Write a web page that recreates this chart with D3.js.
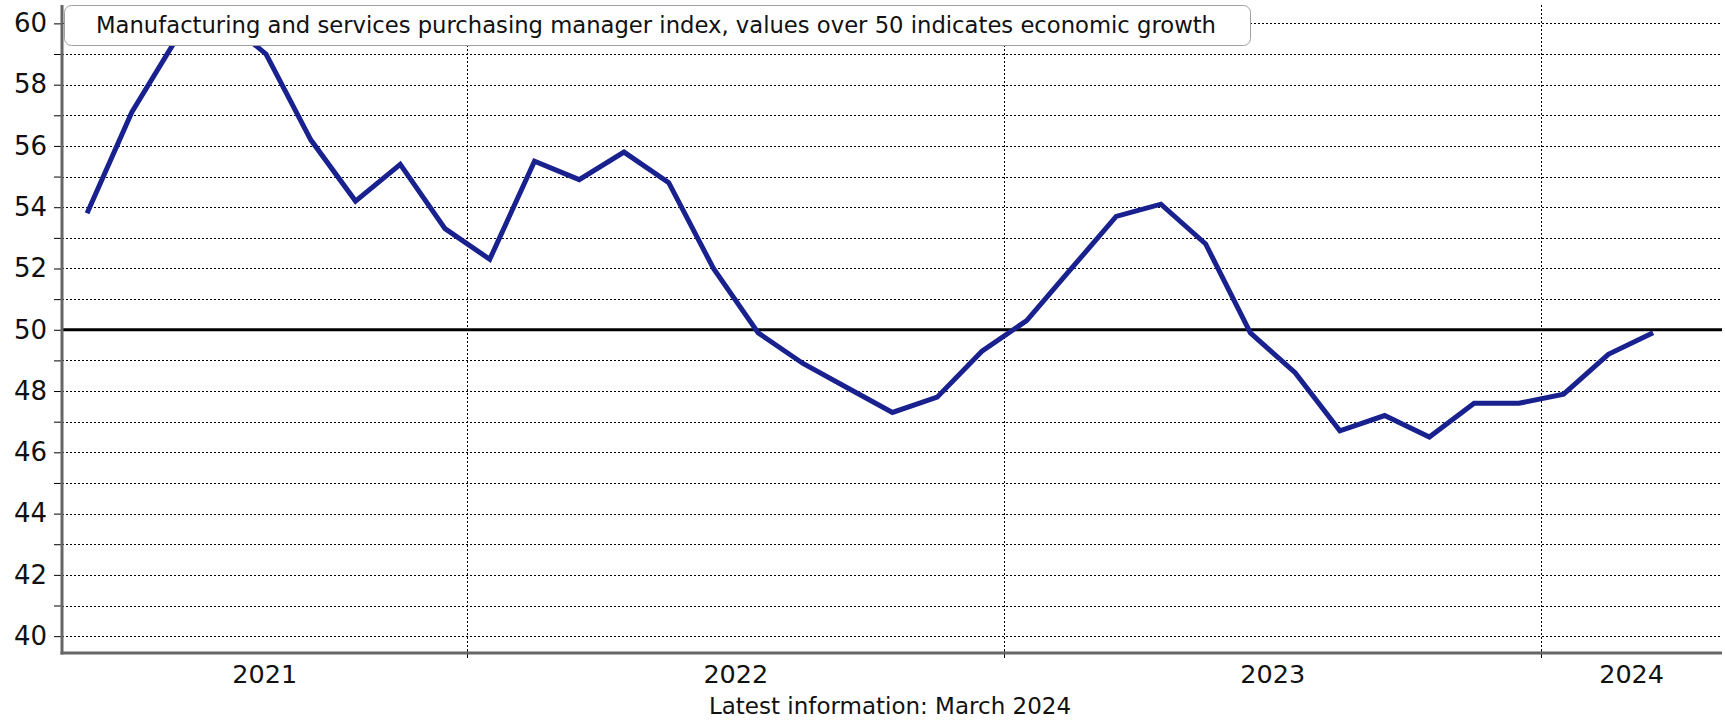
<!DOCTYPE html>
<html>
<head>
<meta charset="utf-8">
<script src="https://cdn.jsdelivr.net/npm/d3@7"></script>
<style>
  html, body { margin: 0; padding: 0; background: #fff; }
  svg { display: block; font-family: "DejaVu Sans", Verdana, sans-serif; }
</style>
</head>
<body>
<svg id="chart" width="1725" height="720"></svg>
<script>
// monthly composite PMI, April 2021 .. March 2024
var months = [
  "2021-04","2021-05","2021-06","2021-07","2021-08","2021-09","2021-10","2021-11","2021-12",
  "2022-01","2022-02","2022-03","2022-04","2022-05","2022-06","2022-07","2022-08","2022-09","2022-10","2022-11","2022-12",
  "2023-01","2023-02","2023-03","2023-04","2023-05","2023-06","2023-07","2023-08","2023-09","2023-10","2023-11","2023-12",
  "2024-01","2024-02","2024-03"
];
var pmi = [
  53.8, 57.1, 59.5, 60.2, 59.0, 56.2, 54.2, 55.4, 53.3,
  52.3, 55.5, 54.9, 55.8, 54.8, 52.0, 49.9, 48.9, 48.1, 47.3, 47.8, 49.3,
  50.3, 52.0, 53.7, 54.1, 52.8, 49.9, 48.6, 46.7, 47.2, 46.5, 47.6, 47.6,
  47.9, 49.2, 49.9
];
var years = [2021, 2022, 2023, 2024];
var yTicks = [40, 42, 44, 46, 48, 50, 52, 54, 56, 58, 60];
var title = "Manufacturing and services purchasing manager index, values over 50 indicates economic growth";
var footer = "Latest information: March 2024";

var svg = d3.select("#chart");

var mLeft = 62, mRight = 1722, mTop = 5, mBottom = 653;

// x in months since Jan 2021, points sit mid-month
function monthIndex(s) {
  var p = s.split("-");
  return (+p[0] - 2021) * 12 + (+p[1] - 1);
}
var x = d3.scaleLinear().domain([2.94, 40.04]).range([mLeft, mRight]);
var y = d3.scaleLinear().domain([39.45, 60.6]).range([mBottom, mTop]);

// horizontal dotted grid, every unit
var grid = svg.append("g");
grid.selectAll("line.h")
  .data(d3.range(40, 61))
  .enter().append("line")
  .attr("class", "h")
  .attr("x1", mLeft).attr("x2", mRight)
  .attr("y1", function(d) { return Math.round(y(d)) + 0.5; })
  .attr("y2", function(d) { return Math.round(y(d)) + 0.5; })
  .attr("stroke", "#000")
  .attr("stroke-width", 1)
  .attr("stroke-dasharray", "2,2");

// vertical dotted grid at year boundaries
var bounds = [1, 2, 3].map(function(i) { return i * 12; });
grid.selectAll("line.v")
  .data(bounds)
  .enter().append("line")
  .attr("class", "v")
  .attr("x1", function(d) { return Math.round(x(d)) + 0.5; })
  .attr("x2", function(d) { return Math.round(x(d)) + 0.5; })
  .attr("y1", mTop).attr("y2", mBottom)
  .attr("stroke", "#000")
  .attr("stroke-width", 1)
  .attr("stroke-dasharray", "2,2");

// y axis ticks + labels
var yAxis = d3.axisLeft(y)
  .tickValues(d3.range(40, 61))
  .tickSize(8)
  .tickPadding(7)
  .tickFormat(function(d) { return yTicks.indexOf(d) >= 0 ? d : ""; });
var ya = svg.append("g")
  .attr("transform", "translate(" + mLeft + ",0)")
  .call(yAxis);
ya.select(".domain").remove();
ya.selectAll(".tick line").attr("stroke", "#000");
ya.selectAll(".tick text")
  .attr("font-family", "DejaVu Sans")
  .attr("font-size", 26)
  .attr("fill", "#111");

// x ticks at year boundaries
svg.append("g").selectAll("line")
  .data(bounds)
  .enter().append("line")
  .attr("x1", function(d) { return Math.round(x(d)) + 0.5; })
  .attr("x2", function(d) { return Math.round(x(d)) + 0.5; })
  .attr("y1", mBottom - 4).attr("y2", mBottom + 5)
  .attr("stroke", "#000");

// year labels centred in the visible part of each year
svg.append("g").selectAll("text")
  .data(years)
  .enter().append("text")
  .attr("x", function(d) {
    var a = Math.max((d - 2021) * 12, x.domain()[0]);
    var b = Math.min((d - 2021 + 1) * 12, x.domain()[1]);
    return x((a + b) / 2);
  })
  .attr("y", 683)
  .attr("text-anchor", "middle")
  .attr("font-size", 25.5)
  .attr("fill", "#111")
  .text(function(d) { return d; });

// 50 reference line
svg.append("line")
  .attr("x1", mLeft).attr("x2", mRight)
  .attr("y1", y(50)).attr("y2", y(50))
  .attr("stroke", "#000")
  .attr("stroke-width", 3);

// pmi line
var line = d3.line()
  .x(function(d, i) { return x(monthIndex(months[i]) + 0.5); })
  .y(function(d) { return y(d); });
svg.append("path")
  .datum(pmi)
  .attr("d", line)
  .attr("fill", "none")
  .attr("stroke", "#19218f")
  .attr("stroke-width", 5)
  .attr("stroke-linejoin", "miter");

// axis lines
svg.append("line")
  .attr("x1", mLeft).attr("x2", mLeft)
  .attr("y1", mTop).attr("y2", mBottom + 1.5)
  .attr("stroke", "#666").attr("stroke-width", 3);
svg.append("line")
  .attr("x1", mLeft - 1.5).attr("x2", mRight)
  .attr("y1", mBottom).attr("y2", mBottom)
  .attr("stroke", "#666").attr("stroke-width", 3);

// title box
svg.append("rect")
  .attr("x", 64.5).attr("y", 5.5)
  .attr("width", 1186).attr("height", 40)
  .attr("rx", 7)
  .attr("fill", "#fff")
  .attr("stroke", "#a0a0a0");
svg.append("text")
  .attr("x", 96).attr("y", 33)
  .attr("font-size", 22.7)
  .attr("fill", "#111")
  .text(title);

svg.append("text")
  .attr("x", 890).attr("y", 714)
  .attr("text-anchor", "middle")
  .attr("font-size", 23)
  .attr("fill", "#111")
  .text(footer);
</script>
</body>
</html>
